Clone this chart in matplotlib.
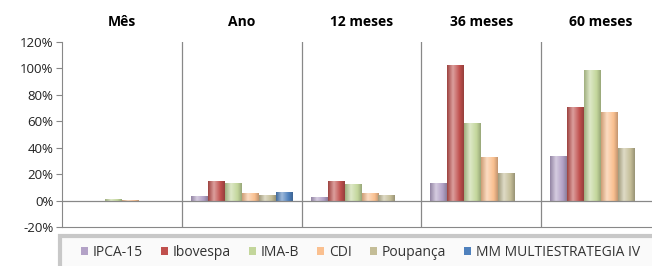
import matplotlib
matplotlib.use('Agg')
import matplotlib.pyplot as plt
import matplotlib.transforms as mtransforms
from matplotlib.colors import to_rgb
from matplotlib.patches import Rectangle
import numpy as np

# DATA #
periods = ['Mês', 'Ano', '12 meses', '36 meses', '60 meses']
series = ['IPCA-15', 'Ibovespa', 'IMA-B', 'CDI', 'Poupança', 'MM MULTIESTRATEGIA IV']
ipca15 = [0.0, 3.3, 3.0, 13.5, 34.0]
ibovespa = [0.0, 14.7, 14.7, 102.7, 70.5]
imab = [1.2, 12.9, 12.4, 59.0, 99.0]
cdi = [0.4, 5.8, 5.8, 33.0, 67.0]
poupanca = [0.0, 4.0, 4.0, 20.5, 39.5]
mm = [0.0, 6.6, 0.0, 0.0, 0.0]
colors = ['#b3a2c7', '#c0504d', '#c3d69b', '#fac090', '#c4bd97', '#4f81bd']

plt.rcParams['font.family'] = ['Open Sans', 'DejaVu Sans']


def gradient(c):
    """Horizontal shading for a bar, like the 3D look of the original"""
    base = np.array(to_rgb(c))
    dark = base * 0.82
    light = base + (1 - base) * 0.45
    t = np.linspace(0, 1, 64)
    stops = [0.0, 0.35, 0.75, 1.0]
    cols = [dark, light, base, dark * 0.95]
    img = np.zeros((1, 64, 3))
    for k in range(3):
        img[0, :, k] = np.interp(t, stops, [cc[k] for cc in cols])
    return np.clip(img, 0, 1)


fig = plt.figure(figsize=(6.52, 2.66), dpi=100)
ax = fig.add_axes([62 / 652, 1 - 227 / 266, 599 / 652, 185 / 266])

values = [ipca15, ibovespa, imab, cdi, poupanca, mm]
bw = 17 / 120
x = np.arange(len(periods))
offs = (np.arange(len(series)) - 2.5) * bw
handles = []
for i, (vals, c) in enumerate(zip(values, colors)):
    h = ax.bar(x + offs[i], vals, bw, color=c, edgecolor='none', label=series[i])
    handles.append(h)
    img = gradient(c)
    for r in h:
        if r.get_height() == 0:
            continue
        x0 = r.get_x()
        y0, y1 = sorted([r.get_y(), r.get_y() + r.get_height()])
        ax.imshow(img, extent=[x0, x0 + r.get_width(), y0, y1], aspect='auto',
                  interpolation='bilinear', zorder=2)

ax.set_xlim(-0.5, len(periods) - 0.5)
ax.set_ylim(-20, 120)
ax.set_aspect('auto')
ax.set_yticks(np.arange(-20, 121, 20))
ax.set_yticklabels(['%d%%' % v for v in np.arange(-20, 121, 20)], fontsize=9.5, color='#222222')
ax.set_xticks([])
ax.tick_params(axis='y', length=4, color='#888888', pad=2)

for s in ['top', 'right']:
    ax.spines[s].set_visible(False)
for s in ['left', 'bottom']:
    ax.spines[s].set_color('#888888')
ax.axhline(0, color='#888888', lw=0.9, zorder=3)
for b in np.arange(0.5, len(periods) - 0.5):
    ax.axvline(b, color='#888888', lw=0.9)

trans = mtransforms.blended_transform_factory(ax.transData, fig.transFigure)
for i, p in enumerate(periods):
    ax.text(i, 1 - 22 / 266, p, transform=trans, ha='center', va='center',
            fontsize=10, fontweight='bold', clip_on=False)

# legend box
fig.patches.append(Rectangle((60 / 652, -0.2), 1.0, 0.2 + (266 - 236) / 266,
                             transform=fig.transFigure, facecolor='#fafafa',
                             edgecolor='#c8c8c8', lw=3))
leg = fig.legend(handles=handles, labels=series, ncol=6, loc='center left',
                 bbox_to_anchor=(74 / 652, 1 - 252 / 266), frameon=False,
                 fontsize=10, handlelength=0.5, handleheight=0.5,
                 handletextpad=0.35, columnspacing=1.3, borderpad=0)
for t in leg.get_texts():
    t.set_color('#333333')

fig.savefig('out.png', dpi=100)
